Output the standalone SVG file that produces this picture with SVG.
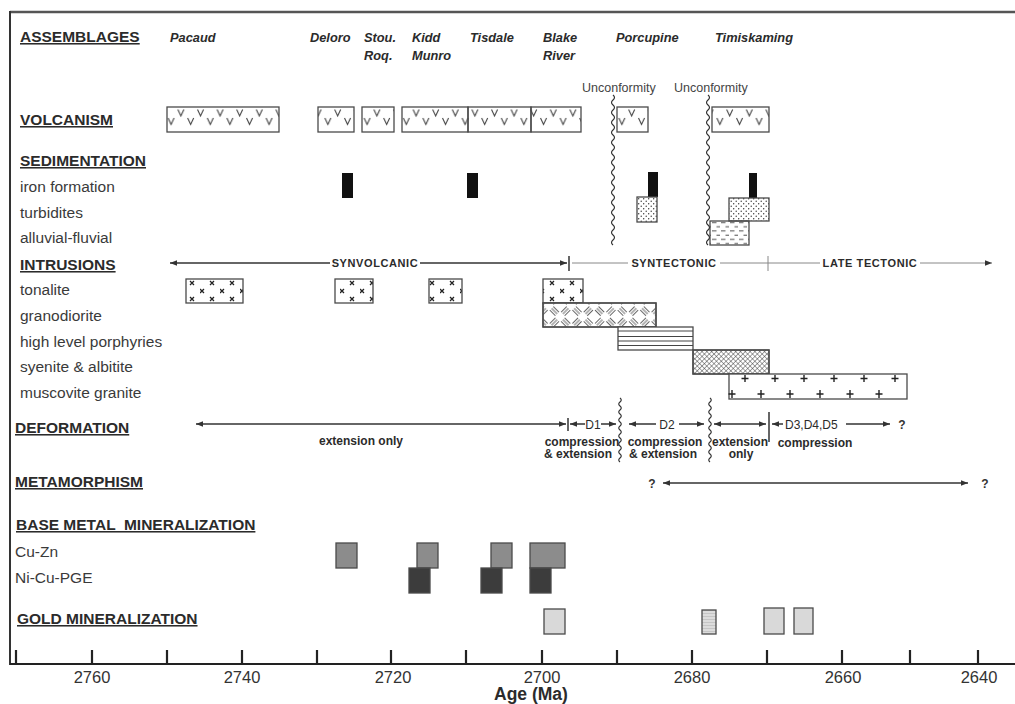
<svg xmlns="http://www.w3.org/2000/svg" width="1015" height="704" viewBox="0 0 1015 704">
<style>
text{font-family:"Liberation Sans",Arial,sans-serif;fill:#2b2b2b}
.hdr{font-size:15.5px;font-weight:bold;text-decoration:underline}
.lbl{font-size:15.5px;fill:#3a3a3a}
.asm{font-size:12.8px;font-weight:bold;font-style:italic}
.unc{font-size:12.5px;fill:#444}
.sm{font-size:11px;font-weight:bold;letter-spacing:0.6px}
.df{font-size:12px;font-weight:bold}
.dl{font-size:12px}
.q{font-size:12px;font-weight:bold;fill:#333}
.ax{font-size:16.5px;fill:#333}
.box{stroke:#4a4a4a;stroke-width:1.3}
.ln{stroke:#333;stroke-width:1.5;fill:none}
.lt{stroke:#888;stroke-width:1;fill:none}
.wv{stroke:#333;stroke-width:1.2;fill:none}
.tk{stroke:#222;stroke-width:2.2}
</style>
<defs>
<marker id="ah" viewBox="0 0 10 10" refX="10" refY="5" markerWidth="8" markerHeight="7" markerUnits="userSpaceOnUse" orient="auto-start-reverse"><path d="M0,1 L10,5 L0,9 z" fill="#333"/></marker>
<pattern id="pV" patternUnits="userSpaceOnUse" x="0" y="107" width="19.6" height="25"><path d="M1.5,2.5 L4.5,9 L7.5,2.5 M11.3,11 L14.3,17.5 L17.3,11" fill="none" stroke="#444" stroke-width="1.1"/></pattern>
<pattern id="pX" patternUnits="userSpaceOnUse" x="0" y="278" width="20" height="16"><path d="M10,3 l4,4 M14,3 l-4,4 M0,11 l4,4 M4,11 l-4,4" stroke="#222" stroke-width="1.3"/></pattern>
<pattern id="pG" patternUnits="userSpaceOnUse" width="16" height="16" patternTransform="rotate(45)"><path d="M0,1.5 h8 M0,4 h8 M0,6.5 h8 M9.5,8 v8 M12,8 v8 M14.5,8 v8" stroke="#666" stroke-width="1"/></pattern>
<pattern id="pC" patternUnits="userSpaceOnUse" width="3.4" height="3.4" patternTransform="rotate(45)"><path d="M0,0 h3.4 M0,0 v3.4" stroke="#333" stroke-width="0.9"/></pattern>
<pattern id="pD" patternUnits="userSpaceOnUse" width="5" height="5"><circle cx="1.2" cy="1.2" r="0.7" fill="#333"/><circle cx="3.7" cy="3.7" r="0.7" fill="#333"/></pattern>
<pattern id="pH" patternUnits="userSpaceOnUse" x="0" y="220" width="9" height="8.4"><path d="M1,2.5 h4.5 M5.5,6.7 h4.5 M-3.5,6.7 h3" stroke="#444" stroke-width="1"/></pattern>
<pattern id="pL" patternUnits="userSpaceOnUse" width="4" height="3"><rect width="4" height="3" fill="#dcdcdc"/><path d="M0,1.5 h4" stroke="#b5b5b5" stroke-width="0.6"/></pattern>
</defs>
<rect width="1015" height="704" fill="#fff"/>

<g id="frame">
<path d="M10,12 H1015" stroke="#555" stroke-width="2.5"/>
<path d="M10,11 V665" stroke="#333" stroke-width="2"/>
</g>

<g id="assemblages">
<text class="hdr" x="20" y="42">ASSEMBLAGES</text>
<text class="asm" x="170" y="42">Pacaud</text>
<text class="asm" x="310" y="42">Deloro</text>
<text class="asm" x="364" y="42">Stou.</text>
<text class="asm" x="364" y="60">Roq.</text>
<text class="asm" x="412" y="42">Kidd</text>
<text class="asm" x="412" y="60">Munro</text>
<text class="asm" x="470" y="42">Tisdale</text>
<text class="asm" x="543" y="42">Blake</text>
<text class="asm" x="543" y="60">River</text>
<text class="asm" x="616" y="42">Porcupine</text>
<text class="asm" x="715" y="42">Timiskaming</text>
<text class="unc" x="582" y="92">Unconformity</text>
<text class="unc" x="674" y="92">Unconformity</text>
</g>

<g id="volcanism">
<text class="hdr" x="20" y="125">VOLCANISM</text>
<g fill="url(#pV)" class="box">
<rect x="167" y="107" width="112" height="25"/>
<rect x="318" y="107" width="36" height="25"/>
<rect x="362" y="107" width="32" height="25"/>
<rect x="402" y="107" width="66" height="25"/>
<rect x="468" y="107" width="63" height="25"/>
<rect x="531" y="107" width="50" height="25"/>
<rect x="617" y="107" width="31" height="25"/>
<rect x="712" y="107" width="57" height="25"/>
</g>
</g>

<g id="sedimentation">
<text class="hdr" x="20" y="166">SEDIMENTATION</text>
<text class="lbl" x="20" y="192">iron formation</text>
<text class="lbl" x="20" y="218">turbidites</text>
<text class="lbl" x="20" y="243">alluvial-fluvial</text>
<g fill="#111">
<rect x="342" y="173" width="11" height="25"/>
<rect x="467" y="173" width="11" height="25"/>
<rect x="648" y="172" width="10" height="25"/>
<rect x="749" y="173" width="8" height="25"/>
</g>
<rect x="637" y="197" width="20" height="25" fill="url(#pD)" class="box"/>
<rect x="729" y="198" width="40" height="23" fill="url(#pD)" class="box"/>
<rect x="710" y="221" width="39" height="24" fill="url(#pH)" class="box"/>
</g>

<g id="intrusions">
<text class="hdr" x="20" y="270">INTRUSIONS</text>
<text class="lbl" x="20" y="295">tonalite</text>
<text class="lbl" x="20" y="321">granodiorite</text>
<text class="lbl" x="20" y="347">high level porphyries</text>
<text class="lbl" x="20" y="372">syenite &amp; albitite</text>
<text class="lbl" x="20" y="398">muscovite granite</text>
<text class="sm" x="375" y="267" text-anchor="middle">SYNVOLCANIC</text>
<text class="sm" x="674" y="267" text-anchor="middle">SYNTECTONIC</text>
<text class="sm" x="870" y="267" text-anchor="middle">LATE TECTONIC</text>
<g fill="url(#pX)" class="box">
<rect x="186" y="279" width="57" height="24"/>
<rect x="335" y="279" width="38" height="24"/>
<rect x="429" y="279" width="33" height="24"/>
<rect x="543" y="279" width="40" height="24"/>
</g>
<rect x="543" y="303" width="113" height="24" fill="#fff" class="box"/>
<rect x="543" y="303" width="113" height="24" fill="url(#pG)" class="box"/>
<rect x="618" y="327" width="75" height="23" fill="#fff" class="box"/>
<path d="M618,331 H693 M618,336.5 H693 M618,341 H693 M618,345.5 H693" stroke="#444" stroke-width="1"/>
<rect x="693" y="350" width="76" height="24" fill="#fff" class="box"/>
<rect x="693" y="350" width="76" height="24" fill="url(#pC)" class="box"/>
<rect x="729" y="374" width="178" height="25" fill="#fff" class="box"/>
<path d="M745,375 v7 M741.5,378.5 h7 M775,375 v7 M771.5,378.5 h7 M804,375 v7 M800.5,378.5 h7 M834,375 v7 M830.5,378.5 h7 M864,375 v7 M860.5,378.5 h7 M895,375 v7 M891.5,378.5 h7 M732,390 v8 M728.5,394 h7 M761,390 v8 M757.5,394 h7 M790,390 v8 M786.5,394 h7 M820,390 v8 M816.5,394 h7 M850,390 v8 M846.5,394 h7 M879,390 v8 M875.5,394 h7" stroke="#222" stroke-width="1.4"/>
</g>

<g id="deformation">
<text class="hdr" x="15" y="433">DEFORMATION</text>
<text class="df" x="361" y="445" text-anchor="middle">extension only</text>
<text class="dl" x="593" y="429" text-anchor="middle">D1</text>
<text class="df" x="582" y="446" text-anchor="middle">compression</text>
<text class="df" x="578" y="458" text-anchor="middle">&amp; extension</text>
<text class="dl" x="667" y="429" text-anchor="middle">D2</text>
<text class="df" x="665" y="446" text-anchor="middle">compression</text>
<text class="df" x="663" y="458" text-anchor="middle">&amp; extension</text>
<text class="df" x="740" y="446" text-anchor="middle">extension</text>
<text class="df" x="741" y="458" text-anchor="middle">only</text>
<text class="dl" x="785" y="429">D3,D4,D5</text>
<text class="df" x="815" y="447" text-anchor="middle">compression</text>
<text class="q" x="902" y="429" text-anchor="middle">?</text>
</g>

<g id="metamorphism">
<text class="hdr" x="15" y="487">METAMORPHISM</text>
<text class="q" x="652" y="488" text-anchor="middle">?</text>
<text class="q" x="985" y="488" text-anchor="middle">?</text>
</g>

<g id="base-metal">
<text class="hdr" x="16" y="530" xml:space="preserve">BASE METAL  MINERALIZATION</text>
<text class="lbl" x="15" y="557">Cu-Zn</text>
<text class="lbl" x="15" y="583">Ni-Cu-PGE</text>
<g fill="#8c8c8c" class="box">
<rect x="336" y="543" width="21" height="25"/>
<rect x="417" y="543" width="21" height="25"/>
<rect x="491" y="543" width="21" height="25"/>
<rect x="530" y="543" width="35" height="25"/>
</g>
<g fill="#3c3c3c" class="box">
<rect x="409" y="568" width="21" height="25"/>
<rect x="481" y="568" width="21" height="25"/>
<rect x="530" y="568" width="21" height="25"/>
</g>
</g>

<g id="gold">
<text class="hdr" x="17" y="624">GOLD MINERALIZATION</text>
<g fill="#d9d9d9" class="box">
<rect x="544" y="609" width="21" height="25"/>
<rect x="764" y="608" width="20" height="26"/>
<rect x="794" y="608" width="19" height="26"/>
</g>
<rect x="702" y="610" width="14" height="24" fill="url(#pL)" class="box"/>
</g>

<g id="connectors">
<path class="ln" d="M330,263 H170" marker-end="url(#ah)"/>
<path class="ln" d="M420,263 H567" marker-end="url(#ah)"/>
<path class="ln" d="M569,256 V271"/>
<path class="lt" d="M572,263 H628 M720,263 H820"/>
<path class="lt" d="M768,256 V271"/>
<path class="lt" d="M920,263 H992" marker-end="url(#ah)"/>
<path class="ln" d="M196,424 H566" marker-start="url(#ah)" marker-end="url(#ah)"/>
<path class="ln" d="M568,418 V431"/>
<path class="ln" d="M585,424 H570" marker-end="url(#ah)"/>
<path class="ln" d="M601,424 H616" marker-end="url(#ah)"/>
<path class="ln" d="M656,424 H629" marker-end="url(#ah)"/>
<path class="ln" d="M679,424 H704" marker-end="url(#ah)"/>
<path class="ln" d="M714,424 H766" marker-start="url(#ah)" marker-end="url(#ah)"/>
<path class="ln" d="M769,412 V442"/>
<path class="ln" d="M783,424 H772" marker-end="url(#ah)"/>
<path class="ln" d="M846,424 H890" marker-end="url(#ah)"/>
<path class="ln" d="M663,483 H968" marker-start="url(#ah)" marker-end="url(#ah)"/>
<path class="wv" d="M613,95 q3,2.5 0,5 t0,5 t0,5 t0,5 t0,5 t0,5 t0,5 t0,5 t0,5 t0,5 t0,5 t0,5 t0,5 t0,5 t0,5 t0,5 t0,5 t0,5 t0,5 t0,5 t0,5 t0,5 t0,5 t0,5 t0,5 t0,5 t0,5 t0,5 t0,5 t0,5"/>
<path class="wv" d="M708,95 q3,2.5 0,5 t0,5 t0,5 t0,5 t0,5 t0,5 t0,5 t0,5 t0,5 t0,5 t0,5 t0,5 t0,5 t0,5 t0,5 t0,5 t0,5 t0,5 t0,5 t0,5 t0,5 t0,5 t0,5 t0,5 t0,5 t0,5 t0,5 t0,5 t0,5 t0,5"/>
<path class="wv" d="M620,398 q2.5,2 0,4 t0,4 t0,4 t0,4 t0,4 t0,4 t0,4 t0,4 t0,4 t0,4 t0,4 t0,4 t0,4 t0,4 t0,4 t0,4"/>
<path class="wv" d="M710,398 q2.5,2 0,4 t0,4 t0,4 t0,4 t0,4 t0,4 t0,4 t0,4 t0,4 t0,4 t0,4 t0,4 t0,4 t0,4 t0,4 t0,4"/>
</g>

<g id="axis">
<path d="M10,664 H1015" stroke="#222" stroke-width="2"/>
<path class="tk" d="M16,650 V664 M92,650 V664 M167,650 V664 M242,650 V664 M317,650 V664 M391,650 V664 M466,650 V664 M542,650 V664 M617,650 V664 M692,650 V664 M767,650 V664 M842,650 V664 M910,650 V664 M978,650 V664"/>
<text class="ax" x="92" y="683" text-anchor="middle">2760</text>
<text class="ax" x="242" y="683" text-anchor="middle">2740</text>
<text class="ax" x="393" y="683" text-anchor="middle">2720</text>
<text class="ax" x="542" y="683" text-anchor="middle">2700</text>
<text class="ax" x="692" y="683" text-anchor="middle">2680</text>
<text class="ax" x="843" y="683" text-anchor="middle">2660</text>
<text class="ax" x="979" y="683" text-anchor="middle">2640</text>
<text x="531" y="700" text-anchor="middle" style="font-size:17.5px;font-weight:bold">Age (Ma)</text>
</g>
</svg>
